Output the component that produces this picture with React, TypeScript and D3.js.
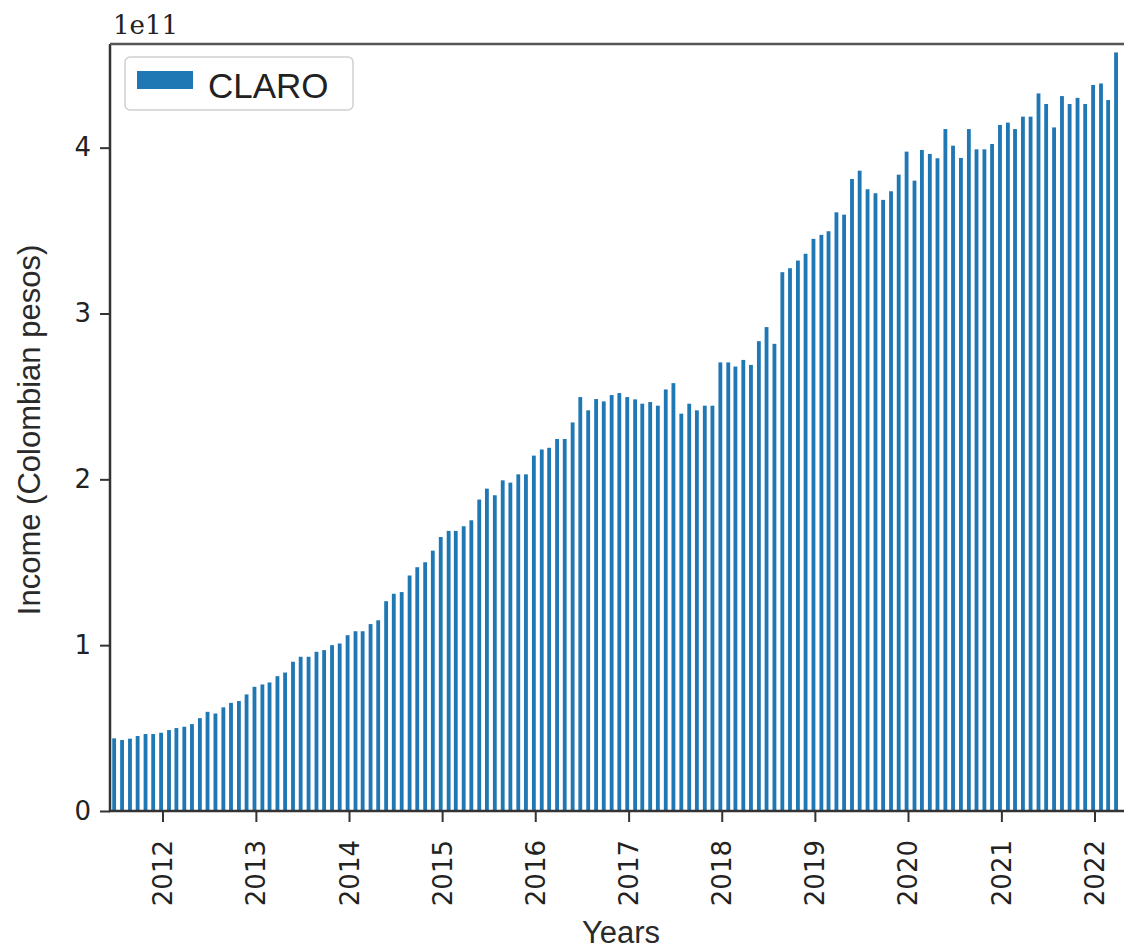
import React, { useEffect, useRef } from 'react';
import * as d3 from 'd3';

// monthly income, in units of 1e11 Colombian pesos
const income2011 = [0.438, 0.428, 0.436, 0.452, 0.464, 0.464]; // Jul - Dec
const income2012 = [0.472, 0.488, 0.5, 0.508, 0.524, 0.56, 0.598, 0.588, 0.625, 0.652, 0.663, 0.703];
const income2013 = [0.749, 0.763, 0.775, 0.813, 0.835, 0.9, 0.93, 0.93, 0.96, 0.97, 1.0, 1.01];
const income2014 = [1.06, 1.084, 1.084, 1.127, 1.15, 1.265, 1.31, 1.32, 1.42, 1.47, 1.5, 1.57];
const income2015 = [1.652, 1.689, 1.689, 1.717, 1.753, 1.878, 1.944, 1.904, 1.994, 1.98, 2.03, 2.03];
const income2016 = [2.143, 2.18, 2.19, 2.243, 2.243, 2.343, 2.496, 2.416, 2.484, 2.47, 2.508, 2.52];
const income2017 = [2.496, 2.482, 2.456, 2.466, 2.444, 2.542, 2.58, 2.396, 2.456, 2.416, 2.444, 2.444];
const income2018 = [2.705, 2.705, 2.68, 2.72, 2.69, 2.833, 2.918, 2.817, 3.249, 3.273, 3.319, 3.36];
const income2019 = [3.45, 3.474, 3.496, 3.61, 3.596, 3.811, 3.861, 3.749, 3.725, 3.685, 3.737, 3.837];
const income2020 = [3.976, 3.801, 3.986, 3.962, 3.936, 4.112, 4.012, 3.938, 4.112, 3.99, 3.99, 4.022];
const income2021 = [4.137, 4.151, 4.112, 4.187, 4.187, 4.327, 4.263, 4.122, 4.311, 4.263, 4.3, 4.263];
const income2022 = [4.378, 4.387, 4.287, 4.574]; // Jan - Apr

const incomeE11 = [
  ...income2011, ...income2012, ...income2013, ...income2014, ...income2015, ...income2016,
  ...income2017, ...income2018, ...income2019, ...income2020, ...income2021, ...income2022,
];
const firstMonth = new Date(2011, 6, 1);
const months = d3.timeMonth.range(firstMonth, d3.timeMonth.offset(firstMonth, incomeE11.length));

const yTicks = [0, 1, 2, 3, 4];
const seriesName = 'CLARO';

const W = 1124;
const H = 950;
const left = 110;
const right = 1124;
const top = 44;
const bottom = 811;

const App: React.FC = () => {
  const xAxisRef = useRef<SVGGElement | null>(null);
  const yAxisRef = useRef<SVGGElement | null>(null);

  // years 2012..2022 sit at fixed pixel spots, then widen domain to the plot edges
  const x = d3.scaleTime().domain([new Date(2012, 0, 1), new Date(2022, 0, 1)]).range([162.5, 1094.5]);
  x.domain([x.invert(left), x.invert(right)]).range([left, right]);

  const y = d3.scaleLinear().domain([0, 4.625]).range([bottom, top]);

  useEffect(() => {
    if (xAxisRef.current) {
      const axis = d3.axisBottom(x).ticks(d3.timeYear.every(1)).tickSize(11).tickFormat((d) => d3.timeFormat('%Y')(d as Date));
      const g = d3.select(xAxisRef.current).call(axis);
      g.select('.domain').remove();
      g.selectAll('.tick line').attr('stroke', '#333').attr('stroke-width', 2);
      g.selectAll('.tick text')
        .attr('font-family', 'DejaVu Sans')
        .attr('font-size', 26)
        .attr('fill', '#222')
        .attr('text-anchor', 'end')
        .attr('dy', null)
        .attr('y', null)
        .attr('transform', 'translate(9, 29) rotate(-90)');
    }
    if (yAxisRef.current) {
      const axis = d3.axisLeft(y).tickValues(yTicks).tickSize(10).tickPadding(9).tickFormat((d) => String(d));
      const g = d3.select(yAxisRef.current).call(axis);
      g.select('.domain').remove();
      g.selectAll('.tick line').attr('stroke', '#333').attr('stroke-width', 2);
      g.selectAll('.tick text')
        .attr('font-family', 'DejaVu Sans')
        .attr('font-size', 26)
        .attr('fill', '#222');
    }
  }, []);

  // bars sit a few days before the month start, 15 days wide
  const barX = (d: Date) => x(d3.timeDay.offset(d, -13));
  const barW = (d: Date) => x(d3.timeDay.offset(d, 2)) - barX(d);

  return (
    <svg width={W} height={H} style={{ position: 'absolute', left: 0, top: 0, background: '#fff' }}>
      <g>
        {months.map((m, i) => (
          <rect
            key={i}
            x={barX(m)}
            y={y(incomeE11[i])}
            width={barW(m)}
            height={bottom - y(incomeE11[i])}
            fill="#1f77b4"
          />
        ))}
      </g>

      {/* spines */}
      <line x1={left} x2={left} y1={top} y2={bottom} stroke="#333" strokeWidth={2.5} />
      <line x1={left} x2={right} y1={top} y2={top} stroke="#555" strokeWidth={2.5} />
      <line x1={left - 1} x2={right} y1={bottom} y2={bottom} stroke="#333" strokeWidth={2.5} />

      <g ref={xAxisRef} transform={`translate(0, ${bottom})`} />
      <g ref={yAxisRef} transform={`translate(${left}, 0)`} />

      <text x={113} y={34} fontFamily="DejaVu Serif" fontSize={26} fill="#222">1e11</text>

      {/* legend */}
      <rect x={125} y={57} width={228} height={53} rx={5} fill="#fff" stroke="#d0d0d0" strokeWidth={1.5} />
      <rect x={137} y={71} width={56} height={18} fill="#1f77b4" />
      <text x={208} y={98} fontFamily="Liberation Sans" fontSize={35} fill="#222">{seriesName}</text>

      <text
        transform="translate(40, 430) rotate(-90)"
        textAnchor="middle"
        fontFamily="Liberation Sans"
        fontSize={31}
        fill="#2a2a2a"
      >
        Income (Colombian pesos)
      </text>
      <text x={621} y={943} textAnchor="middle" fontFamily="Liberation Sans" fontSize={31} fill="#2a2a2a">
        Years
      </text>
    </svg>
  );
};

export default App;
